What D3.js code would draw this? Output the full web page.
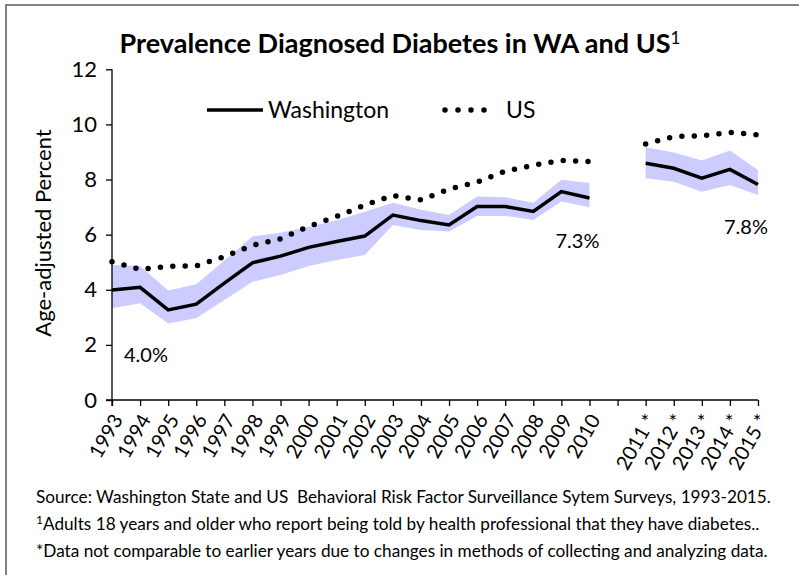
<!DOCTYPE html>
<html>
<head>
<meta charset="utf-8">
<script src="https://cdn.jsdelivr.net/npm/d3@7"></script>
<style>
  body { margin: 0; background: #fff; }
  text { font-family: Lato, "Open Sans", sans-serif; fill: #000; }
</style>
</head>
<body>
<div id="chart-area"></div>
<script>
// categories (the "" slot is the break between 2010 and 2011)
var years = ["1993","1994","1995","1996","1997","1998","1999","2000","2001","2002",
             "2003","2004","2005","2006","2007","2008","2009","2010","",
             "2011 *","2012 *","2013 *","2014 *","2015 *"];

var waValues = [3.99,4.09,3.27,3.48,4.24,4.98,5.22,5.54,5.75,5.95,
                6.71,6.51,6.35,7.02,7.02,6.84,7.56,7.33,null,
                8.59,8.41,8.05,8.37,7.82];
var waLow    = [3.33,3.51,2.78,2.97,3.63,4.29,4.54,4.86,5.08,5.26,
                6.35,6.17,6.11,6.68,6.68,6.53,7.20,6.99,null,
                8.05,7.92,7.56,7.80,7.44];
var waHigh   = [4.90,4.86,3.97,4.20,5.06,5.93,6.07,6.29,6.52,6.83,
                7.16,6.90,6.71,7.38,7.36,7.16,7.99,7.87,null,
                9.17,8.98,8.69,9.05,8.35];
var usValues = [5.02,4.74,4.85,4.87,5.20,5.61,5.85,6.30,6.66,7.07,
                7.42,7.26,7.65,7.91,8.30,8.52,8.69,8.65,null,
                9.29,9.56,9.59,9.71,9.62];

var yTicks = [0,2,4,6,8,10,12];
var pointLabels = [{i: 0, text: "4.0%"}, {i: 17, text: "7.3%"}, {i: 23, text: "7.8%"}];
var footnotes = [
    "Source: Washington State and US\u00a0 Behavioral Risk Factor Surveillance Sytem Surveys, 1993-2015.",
    "Adults 18 years and older who report being told by health professional that they have diabetes..",
    "*Data not comparable to earlier years due to changes in methods of collecting and analyzing data."
];

var width = 799, height = 575;

var svg = d3.select("#chart-area").append("svg")
    .attr("width", width)
    .attr("height", height);

// outer frame
svg.append("rect")
    .attr("x", 6)
    .attr("y", 5)
    .attr("width", 820)
    .attr("height", 600)
    .attr("fill", "none")
    .attr("stroke", "#595959")
    .attr("stroke-width", 1.5);

var x = d3.scalePoint().domain(years).range([112, 758]).padding(0);
var y = d3.scaleLinear().domain([0, 12]).range([400, 69.3]);

var rows = years.map((d, i) => ({
    year: d, wa: waValues[i], lo: waLow[i], hi: waHigh[i], us: usValues[i]
}));

// confidence band
var area = d3.area()
    .defined(d => d.lo != null)
    .x(d => x(d.year))
    .y0(d => y(d.lo))
    .y1(d => y(d.hi));

svg.append("path")
    .datum(rows)
    .attr("d", area)
    .attr("fill", "#ccccff");

// US dotted line
var usLine = d3.line()
    .defined(d => d.us != null)
    .x(d => x(d.year))
    .y(d => y(d.us));

svg.append("path")
    .datum(rows)
    .attr("d", usLine)
    .attr("fill", "none")
    .attr("stroke", "#000")
    .attr("stroke-width", 5.5)
    .attr("stroke-linecap", "round")
    .attr("stroke-dasharray", "0 12.4");

// Washington solid line
var waLine = d3.line()
    .defined(d => d.wa != null)
    .x(d => x(d.year))
    .y(d => y(d.wa));

svg.append("path")
    .datum(rows)
    .attr("d", waLine)
    .attr("fill", "none")
    .attr("stroke", "#000")
    .attr("stroke-width", 3.5);

// axes
var yAxis = svg.append("g")
    .attr("transform", "translate(112,0)")
    .call(d3.axisLeft(y).tickValues(yTicks).tickSize(6).tickSizeOuter(0).tickPadding(9));
yAxis.selectAll("text")
    .style("font-size", "22px")
    .style("font-family", "Lato, sans-serif");
yAxis.select(".domain").attr("d", "M0,69.3V406");

var xAxis = svg.append("g")
    .attr("transform", "translate(0,400)")
    .call(d3.axisBottom(x).tickSize(6).tickSizeOuter(0));
xAxis.select(".domain").attr("d", "M106,0H758");
xAxis.selectAll("text")
    .style("font-size", "20px")
    .style("font-family", "Lato, sans-serif")
    .attr("text-anchor", "end")
    .attr("dy", "0.35em")
    .attr("transform", "translate(5,16) rotate(-60)")
    .attr("y", 0)
    .attr("x", 0);
svg.selectAll(".domain, .tick line").attr("stroke", "#000").attr("stroke-width", 1.3);

// data labels
svg.selectAll(".plabel")
    .data(pointLabels)
    .enter().append("text")
    .attr("class", "plabel")
    .attr("x", d => x(years[d.i]) + (d.i === 0 ? 34 : -12))
    .attr("y", d => y(waValues[d.i]) + (d.i === 0 ? 72 : 50))
    .attr("text-anchor", "middle")
    .style("font-size", "20px")
    .text(d => d.text);

// title
var title = svg.append("text")
    .attr("x", 400)
    .attr("y", 53)
    .attr("text-anchor", "middle")
    .style("font-size", "27px")
    .style("font-weight", "bold");
title.append("tspan").text("Prevalence Diagnosed Diabetes in WA and US");
title.append("tspan").attr("dy", -9).style("font-size", "17px").style("font-weight", "normal").text("1");

// y label
svg.append("text")
    .attr("transform", "translate(51,233) rotate(-90)")
    .attr("text-anchor", "middle")
    .style("font-size", "22px")
    .text("Age-adjusted Percent");

// legend
var legend = svg.append("g");
legend.append("line")
    .attr("x1", 207).attr("x2", 263).attr("y1", 110).attr("y2", 110)
    .attr("stroke", "#000").attr("stroke-width", 3.5);
legend.append("text")
    .attr("x", 268).attr("y", 118)
    .style("font-size", "23px")
    .text("Washington");
legend.append("line")
    .attr("x1", 445).attr("x2", 497).attr("y1", 110).attr("y2", 110)
    .attr("stroke", "#000").attr("stroke-width", 5.5)
    .attr("stroke-linecap", "round").attr("stroke-dasharray", "0 13");
legend.append("text")
    .attr("x", 506).attr("y", 118)
    .style("font-size", "23px")
    .text("US");

// footnotes
var notes = svg.append("g").style("font-size", "17.2px");
notes.append("text").attr("x", 36).attr("y", 503).text(footnotes[0]);
var n2 = notes.append("text").attr("x", 36).attr("y", 530);
n2.append("tspan").attr("dy", -6).style("font-size", "12px").text("1");
n2.append("tspan").attr("dy", 6).text(footnotes[1]);
notes.append("text").attr("x", 36).attr("y", 557).text(footnotes[2]);
</script>
</body>
</html>
